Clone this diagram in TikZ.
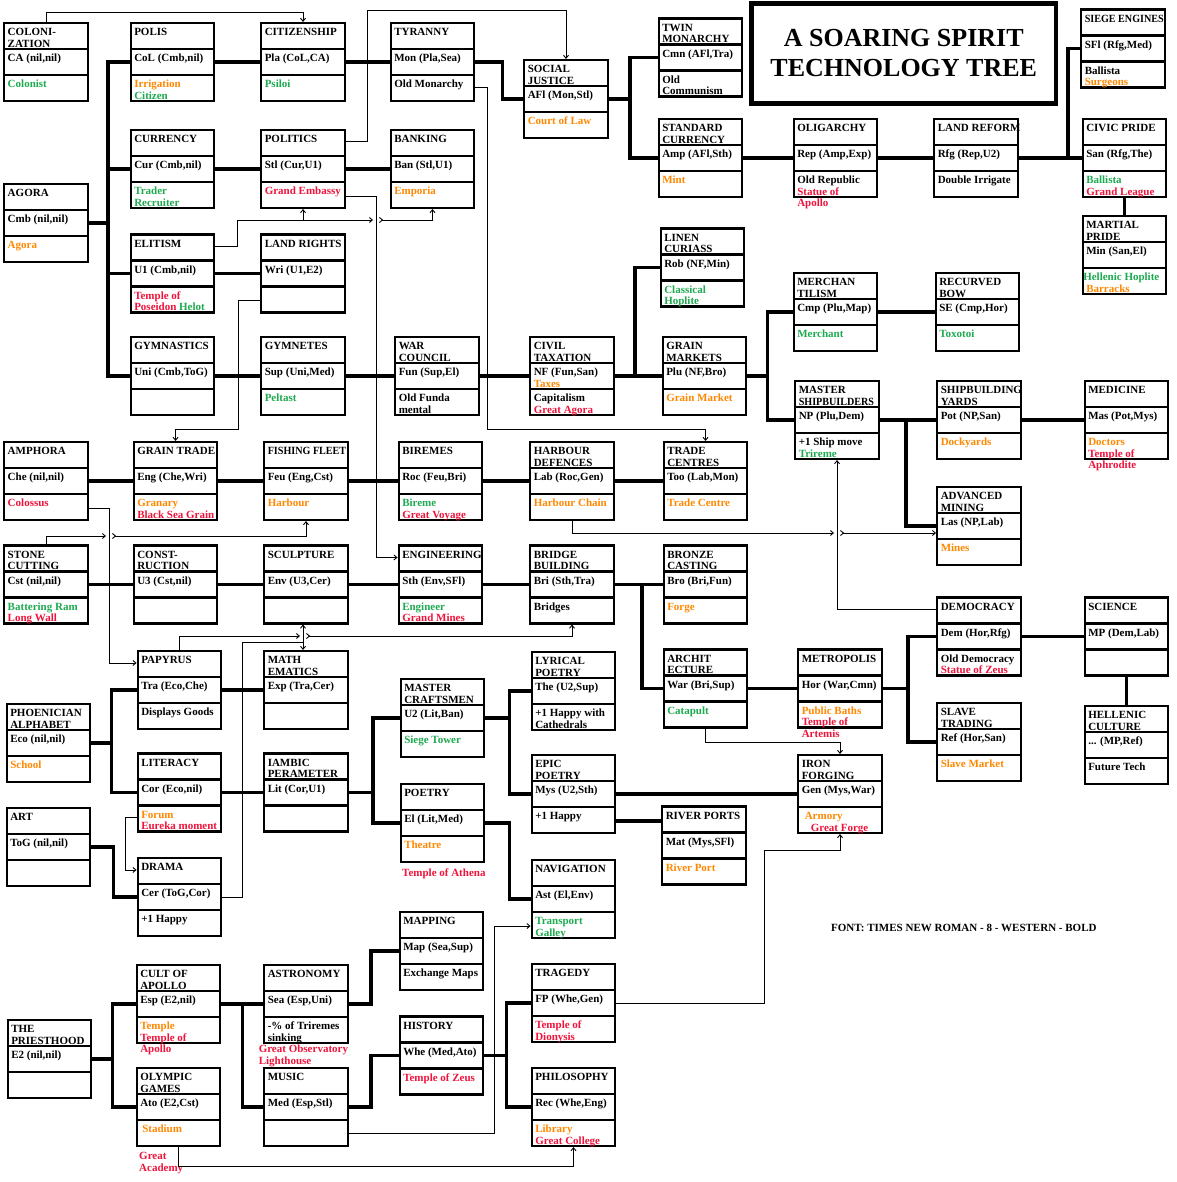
\documentclass[tikz,border=0pt]{standalone}
\usepackage{fontspec}
\setmainfont{Liberation Serif}
\usepackage{graphicx}
\usetikzlibrary{shapes.multipart, arrows.meta, calc}

\definecolor{bldgOrange}{RGB}{255,136,0}
\definecolor{unitGreen}{RGB}{30,170,80}
\definecolor{wondRed}{RGB}{240,20,60}

\newcommand{\bldg}[1]{\textcolor{bldgOrange}{#1}}
\newcommand{\unitg}[1]{\textcolor{unitGreen}{#1}}
\newcommand{\wond}[1]{\textcolor{wondRed}{#1}}
\newcommand{\squeeze}[1]{\scalebox{0.92}[1]{#1}}
\newcommand{\advcell}[1]{\parbox[t][21.5pt][t]{76.5pt}{\raggedright\rule{0pt}{10.5pt}#1}}
\newcommand{\techbox}[3]{\advcell{#1}\nodepart{two}\advcell{#2}\nodepart{three}\advcell{#3}}

\begin{document}
\begin{tikzpicture}[x=1pt, y=-1pt,
  advance/.style={rectangle split, rectangle split parts=3, draw, line width=2.4pt,
    inner xsep=3.5pt, inner ysep=1pt, font=\fontsize{11}{11.5}\selectfont\bfseries},
  note/.style={inner sep=0pt, font=\fontsize{11}{12}\selectfont\bfseries},
  link/.style={line width=3.5pt},
  jump/.style={line width=0.9pt, -{Straight Barb[length=3pt,width=5pt]}},
  hop/.style={line width=0.9pt, {Straight Barb[reversed,length=3pt,width=5pt]}-{Straight Barb[length=3pt,width=5pt]}}]

\useasboundingbox[fill=white] (0,0) rectangle (1176,1182);

% title
\node[draw, line width=4.5pt, minimum width=304.5pt, minimum height=100pt, align=center,
  font=\fontsize{26}{30}\selectfont\bfseries] (title) at (903.75,53.5) {A SOARING SPIRIT\\TECHNOLOGY TREE};
\node[note, anchor=west] (fontnote) at (831,928) {FONT: TIMES NEW ROMAN - 8 - WESTERN - BOLD};

% column 1
\node[advance] (colon) at (46,62) {\techbox{COLONI-\\ZATION}{CA (nil,nil)}{\unitg{Colonist}}};
\node[advance] (agora) at (46,223) {\techbox{AGORA}{Cmb (nil,nil)}{\bldg{Agora}}};
\node[advance] (amphora) at (46,481) {\techbox{AMPHORA}{Che (nil,nil)}{\wond{Colossus}}};
\node[advance] (stone) at (46,584.5) {\techbox{STONE\\CUTTING}{Cst (nil,nil)}{\unitg{Battering Ram}\\\wond{Long Wall}}};
\node[advance] (phoen) at (48.5,743) {\techbox{PHOENICIAN\\ALPHABET}{Eco (nil,nil)}{\bldg{School}}};
\node[advance] (art) at (48.5,847) {\techbox{ART}{ToG (nil,nil)}{}};
\node[advance] (priest) at (49.5,1059) {\techbox{THE\\PRIESTHOOD}{E2 (nil,nil)}{}};

% column 2
\node[advance] (polis) at (172.5,62) {\techbox{POLIS}{CoL (Cmb,nil)}{\bldg{Irrigation}\\\unitg{Citizen}}};
\node[advance] (currency) at (172.5,169) {\techbox{CURRENCY}{Cur (Cmb,nil)}{\unitg{Trader}\\\unitg{Recruiter}}};
\node[advance] (elitism) at (172.5,273.5) {\techbox{ELITISM}{U1 (Cmb,nil)}{\wond{Temple of}\\\wond{Poseidon} \unitg{Helot}}};
\node[advance] (gymnastics) at (172.5,376) {\techbox{GYMNASTICS}{Uni (Cmb,ToG)}{}};
\node[advance] (graintrade) at (175.5,481) {\techbox{\mbox{GRAIN TRADE}}{Eng (Che,Wri)}{\bldg{Granary}\\\wond{\mbox{Black Sea Grain}}}};
\node[advance] (constr) at (175.5,584.5) {\techbox{CONST-\\RUCTION}{U3 (Cst,nil)}{}};
\node[advance] (papyrus) at (179.5,690) {\techbox{PAPYRUS}{Tra (Eco,Che)}{Displays Goods}};
\node[advance] (literacy) at (179.5,792.5) {\techbox{LITERACY}{Cor (Eco,nil)}{\bldg{Forum}\\\wond{\mbox{Eureka moment}}}};
\node[advance] (drama) at (179.5,897) {\techbox{DRAMA}{Cer (ToG,Cor)}{+1 Happy}};
\node[advance] (cult) at (178.5,1004) {\techbox{CULT OF\\APOLLO}{Esp (E2,nil)}{\bldg{Temple}\\\wond{Temple of}\\\wond{Apollo}}};
\node[advance] (olympic) at (178.5,1107) {\techbox{OLYMPIC\\GAMES}{Ato (E2,Cst)}{\hspace*{2pt}\bldg{Stadium}}};
\node[note, anchor=north west, align=left, text=wondRed] (academy) at (139,1152) {Great\\Academy};

% column 3
\node[advance] (citizen) at (303,62) {\techbox{CITIZENSHIP}{Pla (CoL,CA)}{\unitg{Psiloi}}};
\node[advance] (politics) at (303,169) {\techbox{POLITICS}{Stl (Cur,U1)}{\wond{\mbox{Grand Embassy}}}};
\node[advance] (landrights) at (303,273.5) {\techbox{\mbox{LAND RIGHTS}}{Wri (U1,E2)}{}};
\node[advance] (gymnetes) at (303,376) {\techbox{GYMNETES}{Sup (Uni,Med)}{\unitg{Peltast}}};
\node[advance] (fishing) at (306,481) {\techbox{\squeeze{FISHING FLEET}}{Feu (Eng,Cst)}{\bldg{Harbour}}};
\node[advance] (sculpt) at (306,584.5) {\techbox{SCULPTURE}{Env (U3,Cer)}{}};
\node[advance] (math) at (306,690) {\techbox{MATH\\EMATICS}{Exp (Tra,Cer)}{}};
\node[advance] (iambic) at (306,792.5) {\techbox{IAMBIC\\PERAMETER}{Lit (Cor,U1)}{}};
\node[advance] (astro) at (306,1004) {\techbox{ASTRONOMY}{Sea (Esp,Uni)}{\mbox{-\% of Triremes}\\sinking\\\hspace*{-9pt}\wond{\mbox{Great Observatory}}\\\hspace*{-9pt}\wond{Lighthouse}}};
\node[advance] (music) at (306,1107) {\techbox{MUSIC}{Med (Esp,Stl)}{}};

% column 4
\node[advance] (tyranny) at (432.5,62) {\techbox{TYRANNY}{Mon (Pla,Sea)}{\mbox{Old Monarchy}}};
\node[advance] (banking) at (432.5,169) {\techbox{BANKING}{Ban (Stl,U1)}{\bldg{Emporia}}};
\node[advance] (warcouncil) at (437,376) {\techbox{WAR\\COUNCIL}{Fun (Sup,El)}{Old Funda\\mental}};
\node[advance] (biremes) at (440.5,481) {\techbox{BIREMES}{Roc (Feu,Bri)}{\unitg{Bireme}\\\wond{\mbox{Great Voyage}}}};
\node[advance] (engineering) at (440.5,584.5) {\techbox{ENGINEERING}{Sth (Env,SFl)}{\unitg{Engineer}\\\wond{\mbox{Grand Mines}}}};
\node[advance] (mastercraft) at (442.5,718) {\techbox{MASTER\\CRAFTSMEN}{U2 (Lit,Ban)}{\unitg{Siege Tower}}};
\node[advance] (poetry) at (442.5,823) {\techbox{POETRY}{El (Lit,Med)}{\bldg{Theatre}}};
\node[note, anchor=west, text=wondRed] (athena) at (402,874) {Temple of Athena};
\node[advance] (mapping) at (441.5,951) {\techbox{MAPPING}{Map (Sea,Sup)}{\mbox{Exchange Maps}}};
\node[advance] (history) at (441.5,1055.5) {\techbox{HISTORY}{Whe (Med,Ato)}{\wond{\mbox{Temple of Zeus}}}};

% column 5
\node[advance] (social) at (566,99) {\techbox{SOCIAL\\JUSTICE}{AFl (Mon,Stl)}{\bldg{\mbox{Court of Law}}}};
\node[advance] (civiltax) at (572,376) {\techbox{CIVIL\\TAXATION}{NF (Fun,San)\\\bldg{Taxes}}{Capitalism\\\wond{\mbox{Great Agora}}}};
\node[advance] (harbour) at (572,481) {\techbox{HARBOUR\\DEFENCES}{Lab (Roc,Gen)}{\bldg{\mbox{Harbour Chain}}}};
\node[advance] (bridge) at (572,584.5) {\techbox{BRIDGE\\BUILDING}{Bri (Sth,Tra)}{Bridges}};
\node[advance] (lyrical) at (573.5,691) {\techbox{LYRICAL\\POETRY}{The (U2,Sup)}{\mbox{+1 Happy with}\\Cathedrals}};
\node[advance] (epic) at (573.5,794) {\techbox{EPIC\\POETRY}{Mys (U2,Sth)}{+1 Happy}};
\node[advance] (navigation) at (573.5,899) {\techbox{NAVIGATION}{Ast (El,Env)}{\unitg{Transport}\\\unitg{Galley}}};
\node[advance] (tragedy) at (573.5,1003) {\techbox{TRAGEDY}{FP (Whe,Gen)}{\wond{Temple of}\\\wond{Dionysis}}};
\node[advance] (philosophy) at (573.5,1107) {\techbox{PHILOSOPHY}{Rec (Whe,Eng)}{\bldg{Library}\\\wond{\mbox{Great College}}}};

% column 6
\node[advance] (twin) at (700.5,57.5) {\techbox{TWIN\\MONARCHY}{Cmn (AFl,Tra)}{Old\\Communism}};
\node[advance] (stdcur) at (700.5,158) {\techbox{STANDARD\\CURRENCY}{Amp (AFl,Sth)}{\bldg{Mint}}};
\node[advance] (linen) at (702.5,267.5) {\techbox{LINEN\\CURIASS}{Rob (NF,Min)}{\unitg{Classical}\\\unitg{Hoplite}}};
\node[advance] (grainmkt) at (704.5,376) {\techbox{GRAIN\\MARKETS}{Plu (NF,Bro)}{\bldg{\mbox{Grain Market}}}};
\node[advance] (tradectr) at (705.5,481) {\techbox{TRADE\\CENTRES}{Too (Lab,Mon)}{\bldg{\mbox{Trade Centre}}}};
\node[advance] (bronze) at (705.5,584.5) {\techbox{BRONZE\\CASTING}{Bro (Bri,Fun)}{\bldg{Forge}}};
\node[advance] (archit) at (705.5,688.5) {\techbox{ARCHIT\\ECTURE}{War (Bri,Sup)}{\unitg{Catapult}}};
\node[advance] (riverports) at (704,845.5) {\techbox{\mbox{RIVER PORTS}}{Mat (Mys,SFl)}{\bldg{\mbox{River Port}}}};

% column 7
\node[advance] (oligarchy) at (835.5,158) {\techbox{OLIGARCHY}{Rep (Amp,Exp)}{\mbox{Old Republic}\\\wond{Statue of}\\\wond{Apollo}}};
\node[advance] (merchant) at (835.5,312) {\techbox{MERCHAN\\TILISM}{Cmp (Plu,Map)}{\unitg{Merchant}}};
\node[advance] (mastership) at (837,420) {\techbox{MASTER\\\squeeze{SHIPBUILDERS}}{NP (Plu,Dem)}{\mbox{+1 Ship move}\\\unitg{Trireme}}};
\node[advance] (metropolis) at (840,688.5) {\techbox{METROPOLIS}{Hor (War,Cmn)}{\bldg{\mbox{Public Baths}}\\\wond{Temple of}\\\wond{Artemis}}};
\node[advance] (ironforge) at (840,794) {\techbox{IRON\\FORGING}{Gen (Mys,War)}{\hspace*{3pt}\bldg{Armory}\\\hspace*{9pt}\wond{\mbox{Great Forge}}}};

% column 8
\node[advance] (landreform) at (976,158) {\techbox{\mbox{LAND REFORM}}{Rfg (Rep,U2)}{\mbox{Double Irrigate}}};
\node[advance] (recurved) at (977.5,312) {\techbox{RECURVED\\BOW}{SE (Cmp,Hor)}{\unitg{Toxotoi}}};
\node[advance] (shipyards) at (979,420) {\techbox{SHIPBUILDING\\YARDS}{Pot (NP,San)}{\bldg{Dockyards}}};
\node[advance] (advmining) at (979,526) {\techbox{ADVANCED\\MINING}{Las (NP,Lab)}{\bldg{Mines}}};
\node[advance] (democracy) at (979,636.5) {\techbox{DEMOCRACY}{Dem (Hor,Rfg)}{\mbox{Old Democracy}\\\wond{\mbox{Statue of Zeus}}}};
\node[advance] (slave) at (979,742) {\techbox{SLAVE\\TRADING}{Ref (Hor,San)}{\bldg{\mbox{Slave Market}}}};

% column 9
\node[advance] (siege) at (1123,48.5) {\techbox{\squeeze{SIEGE ENGINES}}{SFl (Rfg,Med)}{Ballista\\\bldg{Surgeons}}};
\node[advance] (civic) at (1124.5,158) {\techbox{\mbox{CIVIC PRIDE}}{San (Rfg,The)}{\unitg{Ballista}\\\wond{\mbox{Grand League}}}};
\node[advance] (martial) at (1124.5,255) {\techbox{MARTIAL\\PRIDE}{Min (San,El)}{\hspace*{-3pt}\unitg{\mbox{Hellenic Hoplite}}\\\bldg{Barracks}}};
\node[advance] (medicine) at (1126.5,420) {\techbox{MEDICINE}{Mas (Pot,Mys)}{\bldg{Doctors}\\\wond{Temple of}\\\wond{Aphrodite}}};
\node[advance] (science) at (1126.5,636.5) {\techbox{SCIENCE}{MP (Dem,Lab)}{}};
\node[advance] (hellenic) at (1126.5,745) {\techbox{HELLENIC\\CULTURE}{... (MP,Ref)}{\mbox{Future Tech}}};

% tree links
\draw[link] (agora.east) -- ++(19,0) |- (polis.west);
\draw[link] (agora.east) -- ++(19,0) |- (currency.west);
\draw[link] (agora.east) -- ++(19,0) |- (elitism.west);
\draw[link] (agora.east) -- ++(19,0) |- (gymnastics.west);
\draw[link] (polis.east) -- (citizen.west);
\draw[link] (citizen.east) -- (tyranny.west);
\draw[link] (currency.east) -- (politics.west);
\draw[link] (politics.east) -- (banking.west);
\draw[link] (elitism.east) -- (landrights.west);
\draw[link] (gymnastics.east) -- (gymnetes.west);
\draw[link] (gymnetes.east) -- (warcouncil.west);
\draw[link] (warcouncil.east) -- (civiltax.west);
\draw[link] (civiltax.east) -- ++(20,0) |- (linen.west);
\draw[link] (civiltax.east) -- (grainmkt.west);
\draw[link] (tyranny.east) -- ++(27,0) |- (social.west);
\draw[link] (social.east) -- ++(21,0) |- (twin.west);
\draw[link] (social.east) -- ++(21,0) |- (stdcur.west);
\draw[link] (stdcur.east) -- (oligarchy.west);
\draw[link] (oligarchy.east) -- (landreform.west);
\draw[link] (landreform.east) -- (civic.west);
\draw[link] (landreform.east) -- ++(49,0) |- (siege.west);
\draw[link] (civic.south) -- (martial.north);
\draw[link] (grainmkt.east) -- ++(20,0) |- (merchant.west);
\draw[link] (grainmkt.east) -- ++(20,0) |- (mastership.west);
\draw[link] (merchant.east) -- (recurved.west);
\draw[link] (mastership.east) -- ++(26,0) |- (shipyards.west);
\draw[link] (mastership.east) -- ++(26,0) |- (advmining.west);
\draw[link] (shipyards.east) -- (medicine.west);
\draw[link] (amphora.east) -- (graintrade.west);
\draw[link] (graintrade.east) -- (fishing.west);
\draw[link] (fishing.east) -- (biremes.west);
\draw[link] (biremes.east) -- (harbour.west);
\draw[link] (harbour.east) -- (tradectr.west);
\draw[link] (stone.east) -- (constr.west);
\draw[link] (constr.east) -- (sculpt.west);
\draw[link] (sculpt.east) -- (engineering.west);
\draw[link] (engineering.east) -- (bridge.west);
\draw[link] (bridge.east) -- (bronze.west);
\draw[link] (bridge.east) -- ++(27,0) |- (archit.west);
\draw[link] (archit.east) -- (metropolis.west);
\draw[link] (metropolis.east) -- ++(25,0) |- (democracy.west);
\draw[link] (metropolis.east) -- ++(25,0) |- (slave.west);
\draw[link] (democracy.east) -- (science.west);
\draw[link] (science.south) -- (hellenic.north);
\draw[link] (phoen.east) -- ++(20,0) |- (papyrus.west);
\draw[link] (phoen.east) -- ++(20,0) |- (literacy.west);
\draw[link] (papyrus.east) -- (math.west);
\draw[link] (literacy.east) -- (iambic.west);
\draw[link] (iambic.east) -- ++(24,0) |- (mastercraft.west);
\draw[link] (iambic.east) -- ++(24,0) |- (poetry.west);
\draw[link] (mastercraft.east) -- ++(24,0) |- (lyrical.west);
\draw[link] (mastercraft.east) -- ++(24,0) |- (epic.west);
\draw[link] (poetry.east) -- ++(24,0) |- (navigation.west);
\draw[link] (epic.east) -- (ironforge.west);
\coordinate (epicport) at ($(epic.south east)+(0,-13)$);
\draw[link] (epicport) -- (epicport -| riverports.west);
\draw[link] (art.east) -- ++(22,0) |- (drama.west);
\draw[link] (priest.east) -- ++(20,0) |- (cult.west);
\draw[link] (priest.east) -- ++(20,0) |- (olympic.west);
\draw[link] (cult.east) -- ++(21,0) |- (astro.west);
\draw[link] (cult.east) -- ++(21,0) |- (music.west);
\draw[link] (astro.east) -- ++(22,0) |- (mapping.west);
\draw[link] (music.east) -- ++(22,0) |- (history.west);
\draw[link] (history.east) -- ++(22,0) |- (tragedy.west);
\draw[link] (history.east) -- ++(22,0) |- (philosophy.west);

% thin prerequisite arrows
\coordinate (hopA) at (376,220);
\coordinate (hopB) at (837,533);
\coordinate (hopC) at (109,536);
\coordinate (hopD) at (303,636);
\coordinate (forkE) at (303,642);
\draw[jump] (colon.north) -- ++(0,-9) -| (citizen.north);
\draw[jump] ($(politics.north east)+(0,13)$) -- ++(21,0) -- ++(0,-131) -| (social.north);
\draw[jump] ($(politics.south east)+(0,-13)$) -- ++(30,0) |- ($(engineering.north west)+(0,13)$);
\draw[jump] ($(elitism.north east)+(0,13)$) -- ++(22,0) |- ([xshift=-3pt]hopA);
\draw[jump] (politics.south |- hopA) -- (politics.south);
\draw[hop] ([xshift=3pt]hopA) -| (banking.south);
\draw[jump] ($(landrights.south west)+(0,-13)$) -- ++(-22,0) -- ++(0,129) -| (graintrade.north);
\draw[jump] ($(tyranny.south east)+(0,-15)$) -- ++(12,0) -- ++(0,342) -| (tradectr.north);
\draw[jump] (harbour.south) |- ([xshift=-3pt]hopB);
\draw[hop] ([xshift=3pt]hopB) -- (hopB -| advmining.west);
\draw[jump] ($(democracy.north west)+(0,13)$) -| (mastership.south);
\draw[jump] ($(amphora.south east)+(0,-13)$) -- ++(20,0) |- ($(papyrus.north west)+(0,13)$);
\draw[jump] (stone.north) |- ([xshift=-3pt]hopC);
\draw[hop] ([xshift=3pt]hopC) -| (fishing.south);
\draw[jump] (papyrus.north) |- ([xshift=-3pt]hopD);
\draw[hop] ([xshift=3pt]hopD) -| (bridge.south);
\draw[jump] (drama.east) -- ++(20,0) |- (forkE) -- (forkE |- sculpt.south);
\draw[jump] (forkE) -- (forkE |- math.north);
\draw[jump] ($(literacy.south west)+(0,-15)$) -- ++(-11,0) |- ($(drama.north west)+(0,13)$);
\draw[jump] (archit.south) -- ++(0,14) -| (ironforge.north);
\draw[jump] (olympic.south) -- ++(0,19) -| (philosophy.south);
\draw[jump] ($(music.south east)+(0,-14)$) -- ++(145,0) |- ($(navigation.south west)+(0,-13)$);
\draw[jump] (tragedy.east) -- ++(148,0) -- ++(0,-153) -| (ironforge.south);

\end{tikzpicture}
\end{document}
